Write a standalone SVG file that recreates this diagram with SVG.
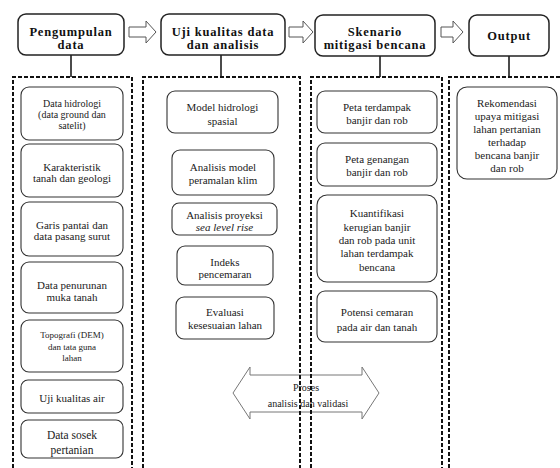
<svg xmlns="http://www.w3.org/2000/svg" width="560" height="468" viewBox="0 0 560 468">
<style>
.hb{fill:#fff;stroke:#222;stroke-width:1.5}
.bb{fill:#fff;stroke:#333;stroke-width:1.1}
.ht{font-family:"Liberation Serif","Times New Roman",serif;font-weight:bold;font-size:12.5px;letter-spacing:0.8px;fill:#111;text-anchor:middle}
.t{font-family:"Liberation Serif","Times New Roman",serif;font-size:11px;fill:#222;text-anchor:middle}
.m{font-size:10px}
.s{font-size:9px}
.dash{fill:none;stroke:#111;stroke-width:2;stroke-dasharray:4 2}
.con{stroke:#111;stroke-width:1.5;fill:none}
.ba{fill:#fff;stroke:#555;stroke-width:1}
</style>
<rect width="560" height="468" fill="#fff"/>
<g id="process-arrow">
<polygon points="233,393 250,367 250,375 362,375 362,367 379,393 362,419 362,412 250,412 250,419" fill="none" stroke="#777" stroke-width="1"/>
<text class="t m" x="306" y="390.5">Proses</text>
<text class="t m" x="308" y="406.5">analisis dan validasi</text>
</g>
<g id="connectors">
<path class="con" d="M71,55V77M221,55V77M380,56V77M509,56V77"/>
<path class="dash" d="M13,468V77H132V468"/>
<path class="dash" d="M143,468V77H300V468"/>
<path class="dash" d="M311,468V77H442V468"/>
<path class="dash" d="M449,468V77H562"/>
<polygon class="ba" points="129,27 146,27 146,21 156,32 146,43 146,37 129,37"/>
<polygon class="ba" points="289,27 303,27 303,21 313,32 303,43 303,37 289,37"/>
<polygon class="ba" points="441,27 453,27 453,21 463,32 453,43 453,37 441,37"/>
</g>
<g id="h1"><rect class="hb" x="18" y="14" width="106" height="41" rx="8"/><text class="ht" x="71" y="36">Pengumpulan</text><text class="ht" x="71" y="49">data</text></g>
<g id="h2"><rect class="hb" x="161" y="14" width="124" height="41" rx="8"/><text class="ht" x="223" y="36">Uji kualitas data</text><text class="ht" x="223" y="49">dan analisis</text></g>
<g id="h3"><rect class="hb" x="315" y="15" width="120" height="41" rx="8"/><text class="ht" x="375" y="36">Skenario</text><text class="ht" x="375" y="49">mitigasi bencana</text></g>
<g id="h4"><rect class="hb" x="469" y="15" width="80" height="41" rx="8"/><text class="ht" x="509" y="40">Output</text></g>

<g id="c1a"><rect class="bb" x="21" y="87" width="102" height="53" rx="8"/><text class="t m" x="72" y="106.5">Data hidrologi</text><text class="t m" x="72" y="117.5">(data ground dan</text><text class="t m" x="72" y="128.5">satelit)</text></g>
<g id="c1b"><rect class="bb" x="21" y="144" width="102" height="53" rx="8"/><text class="t" x="72" y="170.5">Karakteristik</text><text class="t" x="72" y="181.5">tanah dan geologi</text></g>
<g id="c1c"><rect class="bb" x="21" y="202" width="102" height="54" rx="8"/><text class="t" x="72" y="228.5">Garis pantai dan</text><text class="t" x="72" y="239.5">data pasang surut</text></g>
<g id="c1d"><rect class="bb" x="21" y="262" width="102" height="51" rx="8"/><text class="t" x="72" y="288.5">Data penurunan</text><text class="t" x="72" y="300.5">muka tanah</text></g>
<g id="c1e"><rect class="bb" x="21" y="320" width="102" height="52" rx="8"/><text class="t s" x="72" y="338">Topografi (DEM)</text><text class="t s" x="72" y="350">dan tata guna</text><text class="t s" x="72" y="361">lahan</text></g>
<g id="c1f"><rect class="bb" x="21" y="380" width="102" height="33" rx="7"/><text class="t" x="72" y="401.5">Uji kualitas air</text></g>
<g id="c1g"><rect class="bb" x="21" y="420" width="102" height="38" rx="7"/><text class="t" x="72" y="439" style="font-size:11.5px">Data sosek</text><text class="t" x="72" y="454" style="font-size:11.5px">pertanian</text></g>

<g id="c2a"><rect class="bb" x="167" y="91" width="111" height="42" rx="8"/><text class="t" x="222.5" y="111">Model hidrologi</text><text class="t" x="222.5" y="125">spasial</text></g>
<g id="c2b"><rect class="bb" x="172" y="150" width="102" height="45" rx="8"/><text class="t" x="223" y="171">Analisis model</text><text class="t" x="223" y="184">peramalan klim</text></g>
<g id="c2c"><rect class="bb" x="172" y="203" width="105" height="32" rx="7"/><text class="t" x="224.5" y="218.5">Analisis proyeksi</text><text class="t" x="224.5" y="230.5" font-style="italic">sea level rise</text></g>
<g id="c2d"><rect class="bb" x="177" y="246" width="96" height="39" rx="8"/><text class="t" x="225" y="266">Indeks</text><text class="t" x="225" y="278">pencemaran</text></g>
<g id="c2e"><rect class="bb" x="176" y="297" width="98" height="42" rx="8"/><text class="t" x="225" y="316">Evaluasi</text><text class="t" x="225" y="329">kesesuaian lahan</text></g>

<g id="c3a"><rect class="bb" x="317" y="91" width="120" height="42" rx="8"/><text class="t" x="377" y="111">Peta terdampak</text><text class="t" x="377" y="124">banjir dan rob</text></g>
<g id="c3b"><rect class="bb" x="317" y="143" width="120" height="43" rx="8"/><text class="t" x="377" y="163">Peta genangan</text><text class="t" x="377" y="176">banjir dan rob</text></g>
<g id="c3c"><rect class="bb" x="317" y="195" width="120" height="87" rx="10"/><text class="t" x="377" y="217">Kuantifikasi</text><text class="t" x="377" y="231">kerugian banjir</text><text class="t" x="377" y="244">dan rob pada unit</text><text class="t" x="377" y="257">lahan terdampak</text><text class="t" x="377" y="271">bencana</text></g>
<g id="c3d"><rect class="bb" x="317" y="291" width="120" height="51" rx="8"/><text class="t" x="377" y="316">Potensi cemaran</text><text class="t" x="377" y="331">pada air dan tanah</text></g>

<g id="c4a"><rect class="bb" x="457" y="87" width="100" height="92" rx="10"/><text class="t" x="507" y="106.5">Rekomendasi</text><text class="t" x="507" y="119.5">upaya mitigasi</text><text class="t" x="507" y="133">lahan pertanian</text><text class="t" x="507" y="146">terhadap</text><text class="t" x="507" y="159">bencana banjir</text><text class="t" x="507" y="171.5">dan rob</text></g>
</svg>
